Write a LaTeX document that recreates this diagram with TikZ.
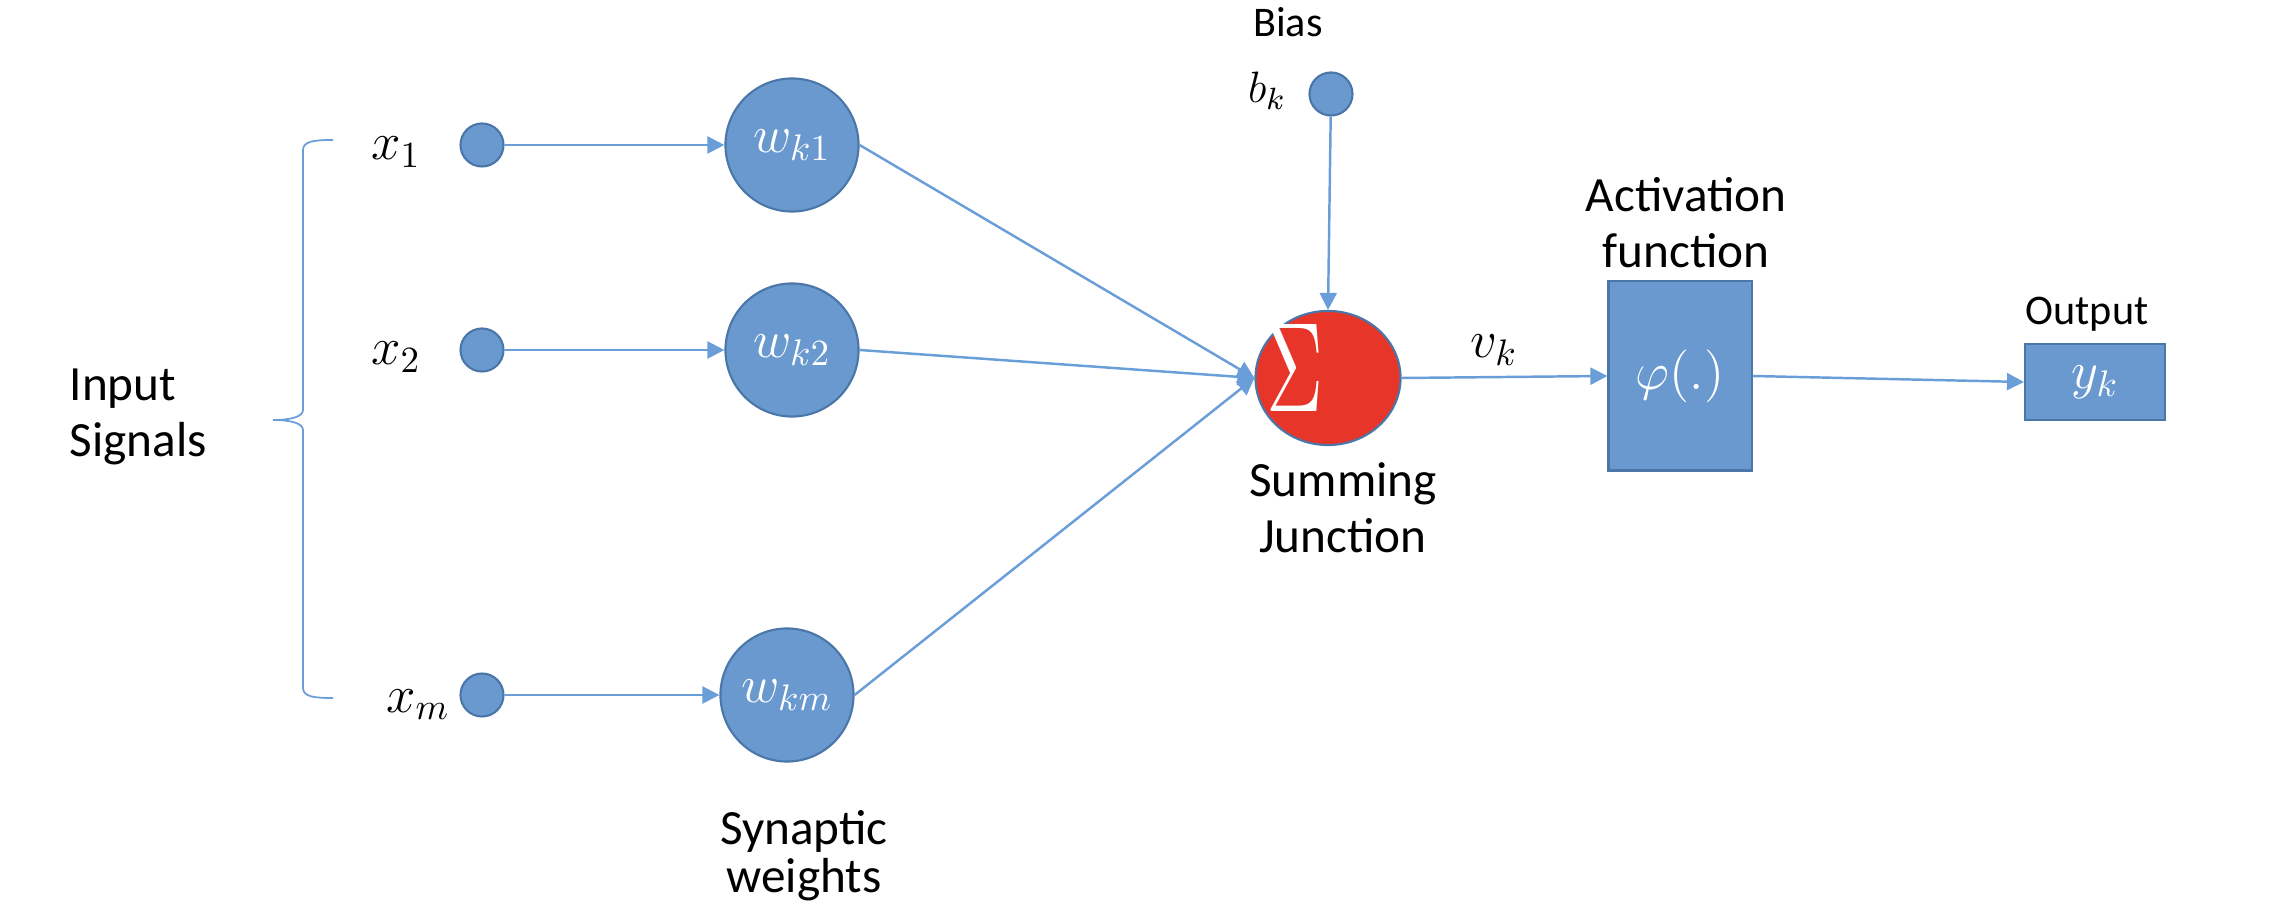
\documentclass[tikz,border=0pt]{standalone}
\usepackage{fix-cm}
\usepackage{graphicx}
\usepackage{fontspec}
\setmainfont{Carlito}
\usetikzlibrary{arrows.meta,shapes.geometric}
\definecolor{lnblue}{HTML}{6A9ED8}
\definecolor{fillblue}{HTML}{6999CE}
\definecolor{edgeblue}{HTML}{4A76A8}
\definecolor{sumred}{HTML}{E8352A}
\begin{document}
\begin{tikzpicture}[x=0.01cm,y=-0.01cm,
  dot/.style={circle,fill=fillblue,draw=edgeblue,line width=0.6pt,minimum size=0.43cm,inner sep=0pt},
  weight/.style={circle,fill=fillblue,draw=edgeblue,line width=0.6pt,minimum size=1.33cm,inner sep=0pt,text=white,font=\fontsize{15}{18}\selectfont},
  blockbox/.style={rectangle,fill=fillblue,draw=edgeblue,line width=0.6pt,inner sep=0pt,text=white,font=\fontsize{15}{18}\selectfont},
  conn/.style={draw=lnblue,line width=0.7pt,-{Triangle[length=0.17cm,width=0.17cm]}},
  mlbl/.style={inner sep=0pt,anchor=base,font=\fontsize{15}{18}\selectfont},
  smlbl/.style={inner sep=0pt,anchor=base,font=\fontsize{12}{14}\selectfont},
  lbl/.style={inner sep=0pt,anchor=base,align=center,font=\fontsize{14}{16.2}\selectfont},
]
\useasboundingbox (0,0) rectangle (2270,910);
% input dots
\node[dot] (x1) at (482,145) {};
\node[dot] (x2) at (482,350) {};
\node[dot] (xm) at (482,695) {};
\node[mlbl] (lx1) at (396,160) {$x_1$};
\node[mlbl] (lx2) at (396,365) {$x_2$};
\node[mlbl] (lxm) at (418,712) {$x_m$};
% weights
\node[weight] (w1) at (792,145) {\raisebox{-0.09cm}{$w_{k1}$}};
\node[weight] (w2) at (792,350) {\raisebox{-0.09cm}{$w_{k2}$}};
\node[weight] (wm) at (787,695) {\raisebox{-0.09cm}{$w_{km}$}};
% summing junction
\node[ellipse,fill=sumred,draw=edgeblue,line width=0.6pt,minimum width=1.45cm,minimum height=1.34cm,inner sep=0pt] (sum) at (1328,378) {};
\node[text=white,inner sep=0pt] (sigma) at (1295,368) {\resizebox{0.57cm}{0.87cm}{$\Sigma$}};
% bias
\node[dot] (bias) at (1331,94) {};
\node[inner sep=0pt,anchor=base,font=\fontsize{12.5}{15}\selectfont] (lbk) at (1267,103) {$b_k$};
\node[inner sep=0pt,anchor=base,font=\fontsize{12}{14}\selectfont] (lbias) at (1288,37) {Bias};
% activation
\node[blockbox,minimum width=1.43cm,minimum height=1.89cm] (phi) at (1680,376) {\raisebox{-0.05cm}{$\varphi(.)$}};
\node[lbl] (lact) at (1686,268) {Activation\\function};
% output
\node[blockbox,minimum width=1.40cm,minimum height=0.76cm] (out) at (2095,382) {$y_k$};
\node[smlbl] (lout) at (2087,325) {Output};
% other labels
\node[mlbl] (lvk) at (1494,358) {$v_k$};
\node[lbl] (lsum) at (1343,553) {Summing\\Junction};
\node[lbl,align=left,anchor=base west] (lin) at (69,457) {Input\\Signals};
\node[lbl,font=\fontsize{14}{13.4}\selectfont] (lsyn) at (804,892) {Synaptic\\weights};
% brace
\draw[lnblue,line width=0.5pt] (333,140) .. controls (315,140) and (303,141) .. (303,150) -- (303,410) .. controls (303,417) and (290,420) .. (273,420) .. controls (290,420) and (303,423) .. (303,430) -- (303,688) .. controls (303,697) and (315,698) .. (333,698);
% connectors
\draw[conn] (x1) -- (w1);
\draw[conn] (x2) -- (w2);
\draw[conn] (xm) -- (wm);
\draw[conn] (w1.east) -- (sum.west);
\draw[conn] (w2.east) -- (sum.west);
\draw[conn] (wm.east) -- (sum.west);
\draw[conn] (bias) -- (sum.north);
\draw[conn] (sum.east) -- (phi.west);
\draw[conn] (phi.east) -- (out.west);
\end{tikzpicture}
\end{document}
